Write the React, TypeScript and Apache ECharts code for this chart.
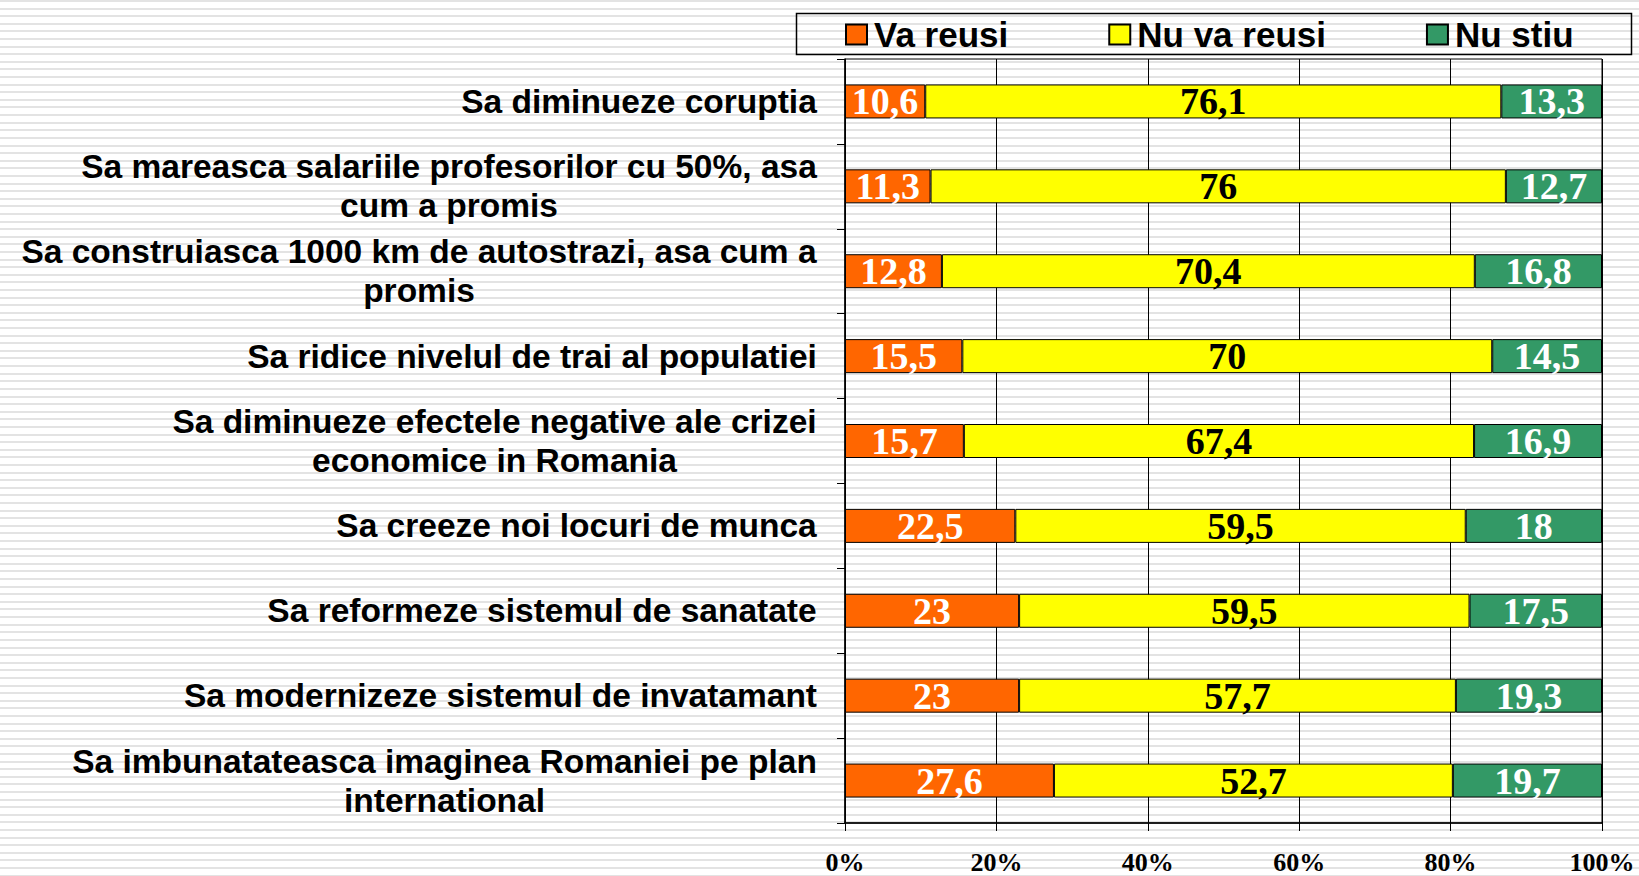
import React, { useEffect, useRef } from "react";
import * as echarts from "echarts";

const categories = [
  "Sa diminueze coruptia",
  "Sa mareasca salariile profesorilor cu 50%, asa\ncum a promis",
  "Sa construiasca 1000 km de autostrazi, asa cum a\npromis",
  "Sa ridice nivelul de trai al populatiei",
  "Sa diminueze efectele negative ale crizei\neconomice in Romania",
  "Sa creeze noi locuri de munca",
  "Sa reformeze sistemul de sanatate",
  "Sa modernizeze sistemul de invatamant",
  "Sa imbunatateasca imaginea Romaniei pe plan\ninternational",
];

const vaReusi = [10.6, 11.3, 12.8, 15.5, 15.7, 22.5, 23, 23, 27.6];
const nuVaReusi = [76.1, 76, 70.4, 70, 67.4, 59.5, 59.5, 57.7, 52.7];
const nuStiu = [13.3, 12.7, 16.8, 14.5, 16.9, 18, 17.5, 19.3, 19.7];

const seriesNames = ["Va reusi", "Nu va reusi", "Nu stiu"];
const xTicks = { min: 0, max: 100, interval: 20 };

const SERIF = '"Liberation Serif", "Times New Roman", serif';
const SANS = '"Liberation Sans", Arial, sans-serif';
const CAT_FONT_SIZE = 33.5;

function makeSeries(name: string, data: number[], color: string, labelColor: string) {
  return {
    name,
    type: "bar",
    stack: "total",
    barWidth: 34,
    data,
    itemStyle: { color, borderColor: "#000", borderWidth: 1 },
    label: {
      show: true,
      position: "inside",
      color: labelColor,
      fontFamily: SERIF,
      fontWeight: "bold",
      fontSize: 38,
      formatter: (p: any) => String(p.value).replace(".", ","),
    },
  };
}

function measure(text: string): number {
  const c = document.createElement("canvas");
  const ctx = c.getContext("2d");
  if (!ctx) return text.length * 18;
  ctx.font = `bold ${CAT_FONT_SIZE}px ${SANS}`;
  return ctx.measureText(text).width;
}

export default function App() {
  const ref = useRef<HTMLDivElement>(null);
  useEffect(() => {
    if (!ref.current) return;
    const chart = echarts.init(ref.current, null, { renderer: "svg" });

    const rich: Record<string, any> = {};
    categories.forEach((c, i) => {
      const lines = c.split("\n");
      const w = Math.ceil(Math.max(...lines.map(measure)));
      rich["l" + i] = {
        width: w,
        align: "center",
        fontFamily: SANS,
        fontWeight: "bold",
        fontSize: CAT_FONT_SIZE,
        lineHeight: 39,
        color: "#000",
      };
    });

    chart.setOption({
      animation: false,
      backgroundColor: "transparent",
      grid: {
        left: 845,
        right: 37,
        top: 59,
        bottom: 53,
        containLabel: false,
        show: true,
        borderColor: "#000",
        borderWidth: 1,
      },
      legend: {
        left: 845,
        top: 17,
        padding: 0,
        itemWidth: 21,
        itemHeight: 20,
        itemGap: 100,
        icon: "rect",
        data: seriesNames,
        textStyle: {
          fontFamily: SANS,
          fontWeight: "bold",
          fontSize: 35,
          color: "#000",
          padding: [0, 0, 0, 2],
        },
      },
      graphic: [
        {
          type: "rect",
          left: 794,
          top: 11,
          shape: { width: 835, height: 41 },
          style: { fill: "none", stroke: "#000", lineWidth: 1.5 },
          silent: true,
        },
      ],
      xAxis: {
        type: "value",
        min: xTicks.min,
        max: xTicks.max,
        interval: xTicks.interval,
        axisLine: { show: true, lineStyle: { color: "#000", width: 1.5 } },
        axisTick: { show: true, length: 8, lineStyle: { color: "#000" } },
        splitLine: { show: true, lineStyle: { color: "#000", width: 1 } },
        axisLabel: {
          formatter: "{value}%",
          fontFamily: SERIF,
          fontWeight: "bold",
          fontSize: 26,
          color: "#000",
          margin: 26,
        },
      },
      yAxis: {
        type: "category",
        inverse: true,
        data: categories,
        axisLine: { show: true, lineStyle: { color: "#000", width: 1.5 } },
        axisTick: { show: true, length: 8, lineStyle: { color: "#000" } },
        axisLabel: {
          fontFamily: SANS,
          fontWeight: "bold",
          fontSize: CAT_FONT_SIZE,
          lineHeight: 39,
          color: "#000",
          margin: 28,
          align: "right",
          rich,
          formatter: (value: string, index: number) =>
            value
              .split("\n")
              .map((l) => `{l${index}|${l}}`)
              .join("\n"),
        },
      },
      series: [
        makeSeries(seriesNames[0], vaReusi, "#FF6600", "#FFFFFF"),
        makeSeries(seriesNames[1], nuVaReusi, "#FFFF00", "#000000"),
        makeSeries(seriesNames[2], nuStiu, "#339966", "#FFFFFF"),
      ],
    });
    return () => chart.dispose();
  }, []);

  return (
    <div
      style={{
        position: "fixed",
        left: 0,
        top: 0,
        width: 1639,
        height: 876,
        background:
          "repeating-linear-gradient(to bottom, #e3e3e3 0px, #e3e3e3 2px, #ffffff 2px, #ffffff 7.606px)",
      }}
    >
      <div ref={ref} style={{ width: 1639, height: 876 }} />
    </div>
  );
}
